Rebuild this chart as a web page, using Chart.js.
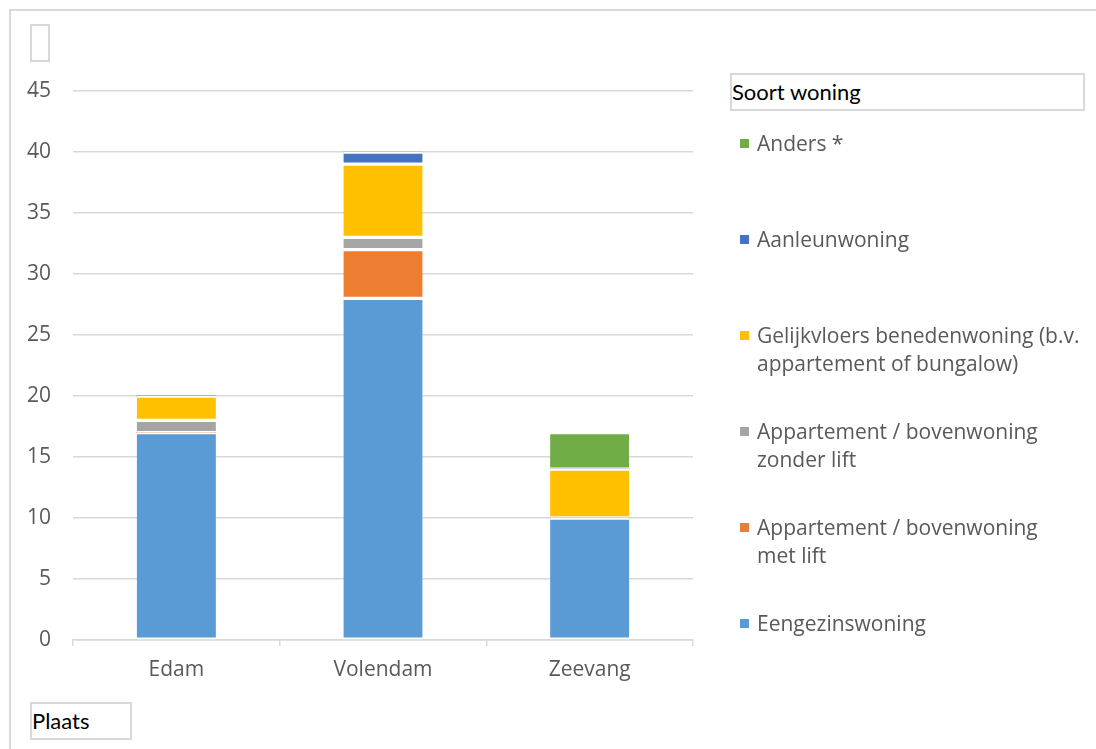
<!DOCTYPE html>
<html>
<head>
<meta charset="utf-8">
<script src="https://cdn.jsdelivr.net/npm/chart.js@4.4.0/dist/chart.umd.min.js"></script>
<style>
  html, body { margin: 0; padding: 0; background: #fff; }
  #wrap { position: relative; width: 1096px; height: 749px; overflow: hidden; }
  #frame { position: absolute; left: 9px; top: 9px; width: 1200px; height: 900px; border: 2px solid #d9d9d9; box-sizing: border-box; }
  canvas { position: absolute; left: 0; top: 0; }
  .box { position: absolute; border: 2px solid #d9d9d9; box-sizing: border-box; font-family: Lato, "Open Sans", sans-serif; font-size: 22px; color: #000; line-height: 33px; padding-left: 0px; background: #fff; }
  #legend { position: absolute; left: 740px; top: 129px; width: 356px; font-family: "Open Sans", sans-serif; font-size: 21px; color: #595959; }
  .item { position: absolute; left: 0; width: 356px; line-height: 28px; padding-left: 17px; box-sizing: border-box; white-space: nowrap; }
  .item span.sw { position: absolute; left: 0; top: 10px; width: 9px; height: 9px; }
</style>
</head>
<body>
<div id="wrap">
  <div id="frame"></div>
  <canvas id="myChart" width="1096" height="749"></canvas>
  <div class="box" style="left:30px;top:24px;width:20px;height:38px;"></div>
  <div class="box" style="left:730px;top:73px;width:355px;height:38px;">Soort woning</div>
  <div class="box" style="left:30px;top:702px;width:102px;height:38px;">Plaats</div>
  <div id="legend"></div>
</div>
<script>
const categories = ['Edam', 'Volendam', 'Zeevang'];
const seriesNames = [
  'Eengezinswoning',
  'Appartement / bovenwoning met lift',
  'Appartement / bovenwoning zonder lift',
  'Gelijkvloers benedenwoning (b.v. appartement of bungalow)',
  'Aanleunwoning',
  'Anders *'
];
const eengezinswoning = [17, 28, 10];
const metLift = [0, 4, 0];
const zonderLift = [1, 1, 0];
const gelijkvloers = [2, 6, 4];
const aanleunwoning = [0, 1, 0];
const anders = [0, 0, 3];
const yTicks = [0, 5, 10, 15, 20, 25, 30, 35, 40, 45];

// legend text as shown (with the wrapping of the original)
const legendLines = [
  ['Eengezinswoning'],
  ['Appartement / bovenwoning', 'met lift'],
  ['Appartement / bovenwoning', 'zonder lift'],
  ['Gelijkvloers benedenwoning (b.v.', 'appartement of bungalow)'],
  ['Aanleunwoning'],
  ['Anders *']
];

const colors = ['#5B9BD5', '#ED7D31', '#A5A5A5', '#FFC000', '#4472C4', '#70AD47'];
const values = [eengezinswoning, metLift, zonderLift, gelijkvloers, aanleunwoning, anders];

const datasets = values.map((v, i) => ({
  label: seriesNames[i],
  data: v,
  backgroundColor: colors[i],
  borderColor: '#ffffff',
  borderWidth: { top: 2, bottom: 2, left: 0, right: 0 },
  borderSkipped: false,
  barThickness: 79
}));

const ctx = document.getElementById('myChart').getContext('2d');
const myChart = new Chart(ctx, {
  type: 'bar',
  data: { labels: categories, datasets: datasets },
  options: {
    responsive: false,
    animation: false,
    layout: { padding: { top: 91, right: 403, bottom: 0, left: 0 } },
    plugins: { legend: { display: false }, tooltip: { enabled: false } },
    scales: {
      x: {
        stacked: true,
        offset: true,
        afterFit: s => { s.height = 109; },
        grid: { offset: true, drawOnChartArea: false, drawTicks: true, tickLength: 6, color: '#d9d9d9', lineWidth: 1.5 },
        border: { display: true, color: '#d9d9d9', width: 1.5 },
        ticks: { color: '#595959', padding: 11, font: { family: 'Open Sans', size: 21 } }
      },
      y: {
        stacked: true,
        min: 0,
        max: 45,
        afterFit: s => { s.width = 73; },
        afterBuildTicks: s => { s.ticks = yTicks.map(v => ({ value: v })); },
        grid: { color: '#d9d9d9', lineWidth: 1.5, drawTicks: false },
        border: { display: false },
        ticks: { color: '#595959', padding: 22, font: { family: 'Open Sans', size: 21 } }
      }
    }
  }
});

// HTML legend, top item is the last series
const legend = document.getElementById('legend');
for (let i = datasets.length - 1, k = 0; i >= 0; i--, k++) {
  const d = document.createElement('div');
  d.className = 'item';
  d.style.top = (k * 96) + 'px';
  const sw = document.createElement('span');
  sw.className = 'sw';
  sw.style.background = datasets[i].backgroundColor;
  d.appendChild(sw);
  d.innerHTML += legendLines[i].join('<br>');
  legend.appendChild(d);
}
</script>
</body>
</html>
